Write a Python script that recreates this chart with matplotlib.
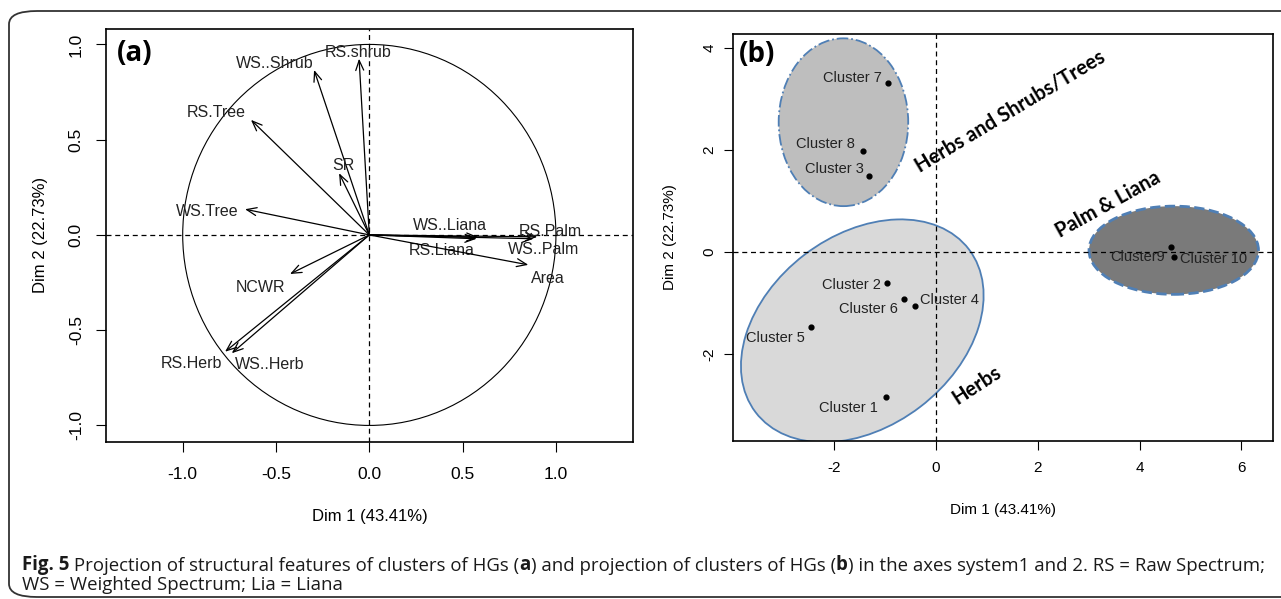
import matplotlib
matplotlib.use("Agg")
import matplotlib.pyplot as plt
from matplotlib.patches import Circle, Ellipse, FancyBboxPatch

plt.rcParams['font.family'] = ['Liberation Sans', 'DejaVu Sans']
plt.rcParams['axes.unicode_minus'] = False

# ---- panel (a): variable coordinates on Dim 1 / Dim 2
var_names = ["RS.shrub", "WS..Shrub", "RS.Tree", "SR", "WS.Tree", "WS..Liana", "RS.Liana",
             "RS.Palm", "WS..Palm", "Area", "NCWR", "RS.Herb", "WS..Herb"]
var_dim1 = [-0.055, -0.296, -0.634, -0.162, -0.666, 0.584, 0.575, 0.90, 0.88, 0.852, -0.425, -0.773, -0.737]
var_dim2 = [0.925, 0.866, 0.604, 0.324, 0.135, -0.012, -0.02, -0.01, -0.02, -0.157, -0.205, -0.613, -0.621]

# ---- panel (b): cluster coordinates
cluster_names = ["Cluster 1", "Cluster 2", "Cluster 3", "Cluster 4", "Cluster 5",
                 "Cluster 6", "Cluster 7", "Cluster 8", "Cluster9", "Cluster 10"]
cluster_dim1 = [-0.99, -0.97, -1.32, -0.41, -2.46, -0.63, -0.94, -1.44, 4.62, 4.67]
cluster_dim2 = [-2.84, -0.61, 1.49, -1.07, -1.48, -0.92, 3.31, 1.98, 0.10, -0.11]

# groups drawn as ellipses: centre, width, height, angle
group_names = ["Herbs and Shrubs/Trees", "Herbs", "Palm & Liana"]
group_cx = [-1.82, -1.45, 4.67]
group_cy = [2.54, -1.55, 0.03]
group_w = [2.545, 5.27, 3.33]
group_h = [3.29, 3.75, 1.73]
group_angle = [0, 37.3, 0]

# ---- layout (label placement)
var_label_xy = [(-0.059, 0.959), (-0.505, 0.901), (-0.818, 0.642), (-0.139, 0.364),
                (-0.867, 0.122), (0.432, 0.047), (0.388, -0.082), (0.968, 0.017),
                (0.933, -0.079), (0.959, -0.227), (-0.581, -0.275), (-0.955, -0.674),
                (-0.532, -0.682)]
cluster_label_off = [(-8, -11, 'right'), (-6, -2, 'right'), (-5.5, 7, 'right'), (4.4, 6.7, 'left'),
                     (-6.3, -11, 'right'), (-6, -10, 'right'), (-6, 5, 'right'), (-7.5, 6.7, 'right'),
                     (-6, -10.7, 'right'), (6, -2, 'left')]
group_text_xy = [(1.46, 2.745), (0.80, -2.61), (3.385, 0.935)]
group_text_rot = [31, 33, 29]
group_face = ["#bebebe", "#d9d9d9", "#7a7a7a"]
group_ls = ["-.", "-", "--"]
group_lw = [1.3, 1.3, 2.0]
edge_blue = "#4f7fb5"

W, H = 1281, 599
fig = plt.figure(figsize=(W / 100, H / 100), dpi=100)


def px_axes(x0, y0, x1, y1):
    return fig.add_axes([x0 / W, 1 - y1 / H, (x1 - x0) / W, (y1 - y0) / H])


# rounded outer frame
fig.patches.append(FancyBboxPatch((9 / W, 2 / H), 1.05, (H - 13) / H,
                                  boxstyle="round,pad=0,rounding_size=0.022",
                                  transform=fig.transFigure, fill=False,
                                  ec="#333333", lw=1.3, clip_on=False))

# ================= panel (a)
ax1 = px_axes(106, 29, 633, 442)
ax1.set_xlim(-1.411, 1.413)
ax1.set_ylim(-1.087, 1.081)
ax1.add_patch(Circle((0, 0), 1, fill=False, lw=0.8, ec="black"))
ax1.axhline(0, ls=(0, (4, 3)), lw=0.9, color="black")
ax1.axvline(0, ls=(0, (4, 3)), lw=0.9, color="black")
for name, x, y, (lx, ly) in zip(var_names, var_dim1, var_dim2, var_label_xy):
    ax1.annotate("", xy=(x, y), xytext=(0, 0),
                 arrowprops=dict(arrowstyle="->,head_length=0.55,head_width=0.22",
                                 mutation_scale=13, lw=0.9, color="black",
                                 shrinkA=0, shrinkB=0))
    ax1.text(lx, ly, name, ha="center", va="center", fontsize=11.5, color="#222222")
ax1.set_xticks([-1.0, -0.5, 0.0, 0.5, 1.0])
ax1.set_xticklabels(["-1.0", "-0.5", "0.0", "0.5", "1.0"])
ax1.set_yticks([-1.0, -0.5, 0.0, 0.5, 1.0])
ax1.set_yticklabels(["-1.0", "-0.5", "0.0", "0.5", "1.0"])
ax1.tick_params(axis="x", length=7, pad=11, labelsize=12.5)
ax1.tick_params(axis="y", length=7, pad=9, labelsize=12.5, labelrotation=90)
for t in ax1.get_yticklabels():
    t.set_va("center")
for s in ax1.spines.values():
    s.set_linewidth(1.2)
ax1.text(0.02, 0.975, "(a)", transform=ax1.transAxes, fontsize=20, fontweight="bold",
         family=["Open Sans", "DejaVu Sans"], ha="left", va="top")
fig.text(369.5 / W, 1 - 517 / H, "Dim 1 (43.41%)", ha="center", va="center", fontsize=12)
fig.text(40 / W, 1 - 235 / H, "Dim 2 (22.73%)", ha="center", va="center", fontsize=12,
         rotation=90)

# ================= panel (b)
ax2 = px_axes(732.5, 34, 1273, 441)
ax2.set_xlim(-4.0, 6.62)
ax2.set_ylim(-3.71, 4.27)
for cx, cy, w, h, a, fc, ls, lw in zip(group_cx, group_cy, group_w, group_h, group_angle,
                                       group_face, group_ls, group_lw):
    ax2.add_patch(Ellipse((cx, cy), w, h, angle=a, facecolor=fc, edgecolor=edge_blue,
                          ls=ls, lw=lw, zorder=1))
ax2.axhline(0, ls=(0, (4, 3)), lw=0.9, color="black", zorder=2)
ax2.axvline(0, ls=(0, (4, 3)), lw=0.9, color="black", zorder=2)
ax2.scatter(cluster_dim1, cluster_dim2, s=12, color="black", zorder=3)
for name, x, y, (ox, oy, ha) in zip(cluster_names, cluster_dim1, cluster_dim2, cluster_label_off):
    ax2.annotate(name, xy=(x, y), xytext=(ox * 0.72, oy * 0.72), textcoords="offset points",
                 ha=ha, va="center", fontsize=10.5, color="#222222", zorder=4)
for name, (tx, ty), rot in zip(group_names, group_text_xy, group_text_rot):
    ax2.text(tx, ty, name, ha="center", va="center", rotation=rot, rotation_mode="anchor",
             fontsize=14.5, fontweight="bold", family=["Lato", "DejaVu Sans"], zorder=4)
ax2.set_xticks([-2, 0, 2, 4, 6])
ax2.set_yticks([-2, 0, 2, 4])
ax2.tick_params(axis="x", length=6.5, pad=8, labelsize=11)
ax2.tick_params(axis="y", length=6.5, pad=5, labelsize=11, labelrotation=90)
for t in ax2.get_yticklabels():
    t.set_va("center")
for s in ax2.spines.values():
    s.set_linewidth(1.2)
ax2.text(0.012, 0.985, "(b)", transform=ax2.transAxes, fontsize=20, fontweight="bold",
         family=["Open Sans", "DejaVu Sans"], ha="left", va="top")
fig.text(1003 / W, 1 - 510 / H, "Dim 1 (43.41%)", ha="center", va="center", fontsize=11)
fig.text(670 / W, 1 - 237 / H, "Dim 2 (22.73%)", ha="center", va="center", fontsize=11,
         rotation=90)

# ================= caption
cap_font = ["Open Sans", "DejaVu Sans"]
cap_size = 13.4
cap_color = "#1a1a1a"
line1 = [("Fig. 5", "bold"), (" Projection of structural features of clusters of HGs (", "normal"),
         ("a", "bold"), (") and projection of clusters of HGs (", "normal"), ("b", "bold"),
         (") in the axes system1 and 2. RS = Raw Spectrum;", "normal")]
prev = fig.text(22 / W, 1 - 570 / H, line1[0][0], fontsize=cap_size, fontweight=line1[0][1],
                family=cap_font, color=cap_color, ha="left", va="baseline")
# each following piece starts where the previous one ends
for seg, wt in line1[1:]:
    prev = plt.annotate(seg, xy=(1, 0), xycoords=prev, xytext=(0, 0), textcoords="offset points",
                        fontsize=cap_size, fontweight=wt, family=cap_font, color=cap_color,
                        ha="left", va="bottom", annotation_clip=False)
fig.text(22 / W, 1 - 590 / H, "WS = Weighted Spectrum; Lia = Liana", fontsize=cap_size,
         family=cap_font, color=cap_color, ha="left", va="baseline")

fig.savefig("out.png", dpi=100)
